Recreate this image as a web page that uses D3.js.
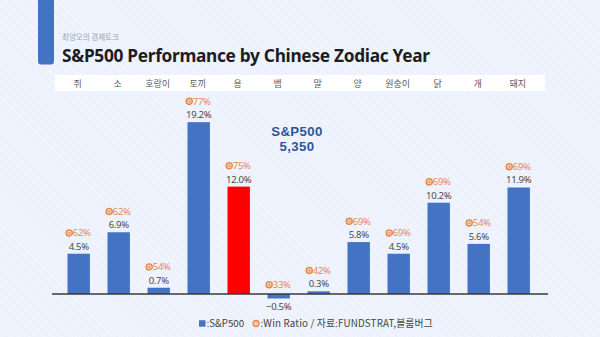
<!DOCTYPE html>
<html>
<head>
<meta charset="utf-8">
<script src="https://cdn.jsdelivr.net/npm/d3@7"></script>
<style>
  html, body { margin: 0; padding: 0; background: #eef3fd; }
  svg { display: block; }
</style>
</head>
<body>
<svg id="chart" width="600" height="337"></svg>
<script>
// Zodiac years and S&P500 average returns / win ratios
const zodiac = ["쥐", "소", "호랑이", "토끼", "용", "뱀", "말", "양", "원숭이", "닭", "개", "돼지"];
const returns = [4.5, 6.9, 0.7, 19.2, 12.0, -0.5, 0.3, 5.8, 4.5, 10.2, 5.6, 11.9];
const winRatio = [62, 62, 54, 77, 75, 33, 42, 69, 69, 69, 54, 69];
const highlight = "용";

const svg = d3.select("#chart");
const W = 600, H = 337;
const KR = "'Noto Sans CJK KR', 'Noto Sans', sans-serif";
const BLUE = "#4472c4", RED = "#ff0000", ORANGE = "#e58a4e";

// background with faint diagonal texture
const defs = svg.append("defs");
const pat = defs.append("pattern").attr("id", "stripes").attr("patternUnits", "userSpaceOnUse")
  .attr("width", 6).attr("height", 6).attr("patternTransform", "rotate(-45)");
pat.append("rect").attr("width", 6).attr("height", 6).attr("fill", "#eef3fd");
pat.append("line").attr("x1", 0).attr("y1", 0).attr("x2", 0).attr("y2", 6)
  .attr("stroke", "#e7edf9").attr("stroke-width", 1);
svg.append("rect").attr("width", W).attr("height", H).attr("fill", "url(#stripes)");

// left accent tab
svg.append("path")
  .attr("d", "M38,0 H54 V61 Q54,64.5 51,64.5 H41 Q38,64.5 38,61 Z")
  .attr("fill", "#4472c4");

svg.append("text").attr("x", 62).attr("y", 40)
  .attr("font-family", KR).attr("font-size", 7.5).attr("fill", "#9aa3b5")
  .text("최양오의 경제토크");

svg.append("text").attr("x", 62).attr("y", 62)
  .attr("font-family", "'Noto Sans', 'Open Sans', sans-serif").attr("font-weight", 700)
  .attr("font-size", 17.3).attr("fill", "#1d1d1f").attr("letter-spacing", -0.3)
  .text("S&P500 Performance by Chinese Zodiac Year");

const x = d3.scaleBand().domain(zodiac).range([58.7, 538.7]).paddingInner(0.44).paddingOuter(0.22);
const y = d3.scaleLinear().domain([0, 20]).range([294, 115]);

// header band with zodiac names
svg.append("rect").attr("x", 55).attr("y", 75).attr("width", 490).attr("height", 16).attr("fill", "#ffffff");
svg.append("g").selectAll("text").data(zodiac).join("text")
  .attr("x", d => x(d) + x.bandwidth() / 2 - 1).attr("y", 86.5)
  .attr("text-anchor", "middle").attr("font-family", KR).attr("font-size", 9).attr("fill", "#5a5a5a")
  .text(d => d);

// bars
const data = zodiac.map((z, i) => ({ z, v: returns[i], w: winRatio[i] }));
svg.append("g").selectAll("rect").data(data).join("rect")
  .attr("x", d => x(d.z)).attr("width", x.bandwidth())
  .attr("y", d => y(Math.max(0, d.v)))
  .attr("height", d => Math.abs(y(d.v) - y(0)))
  .attr("fill", d => d.z === highlight ? RED : BLUE);

// zero line
svg.append("line").attr("x1", 52).attr("x2", 548).attr("y1", y(0)).attr("y2", y(0))
  .attr("stroke", "#3a3a3a").attr("stroke-width", 1.3);

// value labels
const lab = svg.append("g").selectAll("g").data(data).join("g")
  .attr("transform", d => `translate(${x(d.z) + x.bandwidth() / 2},0)`);
lab.append("text")
  .attr("y", d => d.v >= 0 ? y(d.v) - 4 : y(d.v) + 12)
  .attr("text-anchor", "middle").attr("font-family", "'Noto Sans', sans-serif")
  .attr("font-size", 9.5).attr("fill", "#4a4a4a").attr("letter-spacing", -0.3)
  .text(d => d3.format(".1f")(d.v) + "%");

// win ratio labels with ring marker
const wr = lab.append("g")
  .attr("transform", d => `translate(0,${d.v >= 0 ? y(d.v) - 17.5 : y(0) - 6})`);
wr.append("text").attr("x", 3).attr("y", 0)
  .attr("text-anchor", "middle").attr("font-family", "'Noto Sans', sans-serif")
  .attr("font-size", 9.5).attr("fill", ORANGE).attr("letter-spacing", -0.3)
  .text(d => d.w + "%");
wr.append("circle").attr("cx", -9.5).attr("cy", -3.3).attr("r", 3.1)
  .attr("fill", "#f6c9a8").attr("stroke", ORANGE).attr("stroke-width", 1.4);
wr.append("circle").attr("cx", -9.5).attr("cy", -3.3).attr("r", 0.9).attr("fill", ORANGE);

// index level annotation
const ann = svg.append("g").attr("font-family", "'Liberation Sans', Arial, sans-serif").attr("font-weight", 700)
  .attr("font-size", 13.2).attr("fill", "#2f5597").attr("text-anchor", "middle");
ann.append("text").attr("x", 297).attr("y", 135.5).attr("letter-spacing", 0.4).text("S&P500");
ann.append("text").attr("x", 297).attr("y", 150.5).attr("letter-spacing", 0.4).text("5,350");

// legend
const lg = svg.append("g").attr("transform", "translate(199,324)");
lg.append("rect").attr("x", 0).attr("y", -3.8).attr("width", 6.5).attr("height", 6.5).attr("fill", BLUE);
lg.append("text").attr("x", 7.5).attr("y", 3.3).attr("font-family", KR).attr("font-size", 9.8).attr("fill", "#444")
  .text(":S&P500");
lg.append("circle").attr("cx", 57).attr("cy", -0.5).attr("r", 3)
  .attr("fill", "#f6c9a8").attr("stroke", ORANGE).attr("stroke-width", 1.3);
lg.append("text").attr("x", 61.5).attr("y", 3.3).attr("font-family", KR).attr("font-size", 9.8).attr("fill", "#444")
  .attr("letter-spacing", 0.15)
  .text(":Win Ratio / 자료:FUNDSTRAT,블룸버그");
</script>
</body>
</html>
